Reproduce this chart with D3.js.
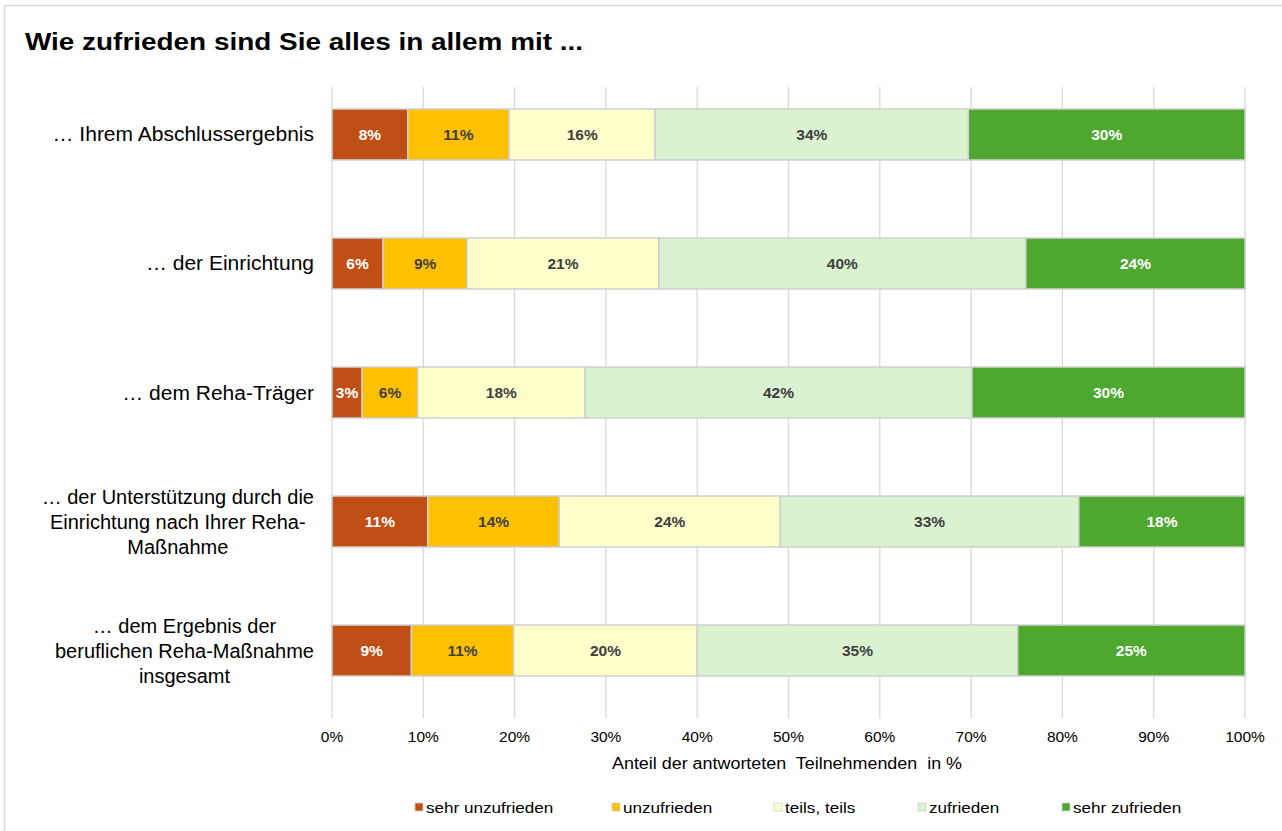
<!DOCTYPE html>
<html>
<head>
<meta charset="utf-8">
<script src="https://cdn.jsdelivr.net/npm/d3@7"></script>
<style>
  body { margin: 0; background: #fff; }
  svg { display: block; font-family: "Liberation Sans", Arial, sans-serif; }
</style>
</head>
<body>
<svg id="chart" width="1282" height="831"></svg>
<script>
var categories = [
  ["… Ihrem Abschlussergebnis"],
  ["… der Einrichtung"],
  ["… dem Reha-Träger"],
  ["… der Unterstützung durch die", "Einrichtung nach Ihrer Reha-", "Maßnahme"],
  ["… dem Ergebnis der", "beruflichen Reha-Maßnahme", "insgesamt"]
];
var seriesNames = ["sehr unzufrieden", "unzufrieden", "teils, teils", "zufrieden", "sehr zufrieden"];
var seriesColors = ["#C04F15", "#FFC000", "#FFFFCC", "#DAF2D0", "#4EA72E"];
var labelColors = ["#fff", "#404040", "#404040", "#404040", "#fff"];
var sehrUnzufrieden = [8.3, 5.6, 3.3, 10.5, 8.7];
var unzufrieden = [11.1, 9.2, 6.1, 14.4, 11.2];
var teilsTeils = [16.0, 21.0, 18.3, 24.2, 20.1];
var zufrieden = [34.3, 40.2, 42.4, 32.7, 35.1];
var sehrZufrieden = [30.3, 24.0, 29.9, 18.2, 24.9];
var xTicks = [0, 10, 20, 30, 40, 50, 60, 70, 80, 90, 100];

var series = [sehrUnzufrieden, unzufrieden, teilsTeils, zufrieden, sehrZufrieden];

var svg = d3.select('#chart');

// the reference renders its text a bit wider than the font does here
function stretch(sel, f) {
  sel.each(function() {
    var w = this.getComputedTextLength();
    d3.select(this).attr('textLength', w * f).attr('lengthAdjust', 'spacingAndGlyphs');
  });
  return sel;
}

// outer frame (only top and left edges visible)
svg.append('line').attr('x1', 4.5).attr('x2', 1282).attr('y1', 5.5).attr('y2', 5.5)
  .attr('stroke', '#d9d9d9').attr('stroke-width', 1.5);
svg.append('line').attr('x1', 4.5).attr('x2', 4.5).attr('y1', 5.5).attr('y2', 831)
  .attr('stroke', '#d9d9d9').attr('stroke-width', 1.5);

var title = svg.append('text')
  .attr('x', 25).attr('y', 50)
  .style('font-size', '23px').style('font-weight', 'bold').attr('fill', '#000')
  .text('Wie zufrieden sind Sie alles in allem mit ...');
title.attr('textLength', 558).attr('lengthAdjust', 'spacingAndGlyphs');

var x = d3.scaleLinear().domain([0, 100]).range([332, 1245]);
var y = d3.scaleBand().domain(d3.range(categories.length))
  .range([70.3, 714.7]).paddingInner(0.605).paddingOuter(0.3);

// gridlines
svg.append('g').selectAll('line').data(xTicks).enter().append('line')
  .attr('x1', function(d) { return x(d); }).attr('x2', function(d) { return x(d); })
  .attr('y1', 87).attr('y2', 718)
  .attr('stroke', '#d9d9d9').attr('stroke-width', 1.3);

// stack the rows
var rows = categories.map(function(c, i) {
  var acc = 0;
  return series.map(function(s, k) {
    var seg = { row: i, k: k, x0: acc, x1: acc + s[i], v: s[i] };
    acc += s[i];
    return seg;
  });
});

var segs = svg.append('g').selectAll('g.seg')
  .data(d3.merge(rows)).enter().append('g').attr('class', 'seg');

segs.append('rect')
  .attr('x', function(d) { return x(d.x0); })
  .attr('width', function(d) { return x(d.x1) - x(d.x0); })
  .attr('y', function(d) { return y(d.row); })
  .attr('height', y.bandwidth())
  .attr('fill', function(d) { return seriesColors[d.k]; })
  .attr('stroke', '#d0d0d0').attr('stroke-width', 1.5);

segs.append('text')
  .attr('x', function(d) { return (x(d.x0) + x(d.x1)) / 2; })
  .attr('y', function(d) { return y(d.row) + y.bandwidth() / 2 + 5.5; })
  .attr('text-anchor', 'middle')
  .style('font-size', '15.5px').style('font-weight', 'bold')
  .attr('fill', function(d) { return labelColors[d.k]; })
  .text(function(d) { return Math.round(d.v) + '%'; });

// category labels: block right-aligned, lines centred inside it
var lineH = 25;
categories.forEach(function(lines, i) {
  var g = svg.append('g');
  var f = lines.length > 1 ? 1 : 1.05;
  var cy = y(i) + y.bandwidth() / 2;
  var t0 = cy - (lines.length - 1) * lineH / 2 + 7;
  var texts = lines.map(function(l, j) {
    return g.append('text').attr('y', t0 + j * lineH)
      .style('font-size', '20px').attr('fill', '#000').text(l);
  });
  var widths = texts.map(function(t) { return t.node().getComputedTextLength() * f; });
  var center = 314 - d3.max(widths) / 2;
  texts.forEach(function(t, j) {
    t.attr('x', center).attr('text-anchor', 'middle')
      .attr('textLength', widths[j]).attr('lengthAdjust', 'spacingAndGlyphs');
  });
});

// tick labels
svg.append('g').selectAll('text').data(xTicks).enter().append('text')
  .attr('x', function(d) { return x(d); }).attr('y', 742)
  .attr('text-anchor', 'middle')
  .style('font-size', '15.5px').attr('fill', '#000')
  .text(function(d) { return d + '%'; });

svg.append('text')
  .attr('x', 612).attr('y', 769)
  .style('font-size', '16px').style('white-space', 'pre').attr('fill', '#000')
  .text('Anteil der antworteten  Teilnehmenden  in %')
  .attr('textLength', 350).attr('lengthAdjust', 'spacingAndGlyphs');

// legend
var legendX = [415, 612, 774, 918, 1062];
var leg = svg.append('g').selectAll('g').data(seriesNames).enter().append('g')
  .attr('transform', function(d, i) { return 'translate(' + legendX[i] + ',808)'; });
leg.append('rect').attr('x', 0).attr('y', -5).attr('width', 8).attr('height', 8)
  .attr('fill', function(d, i) { return seriesColors[i]; })
  .attr('stroke', '#d0d0d0').attr('stroke-width', 0.8);
stretch(leg.append('text').attr('x', 11).attr('y', 5)
  .style('font-size', '15px').attr('fill', '#000')
  .text(function(d) { return d; }), 1.14);
</script>
</body>
</html>
